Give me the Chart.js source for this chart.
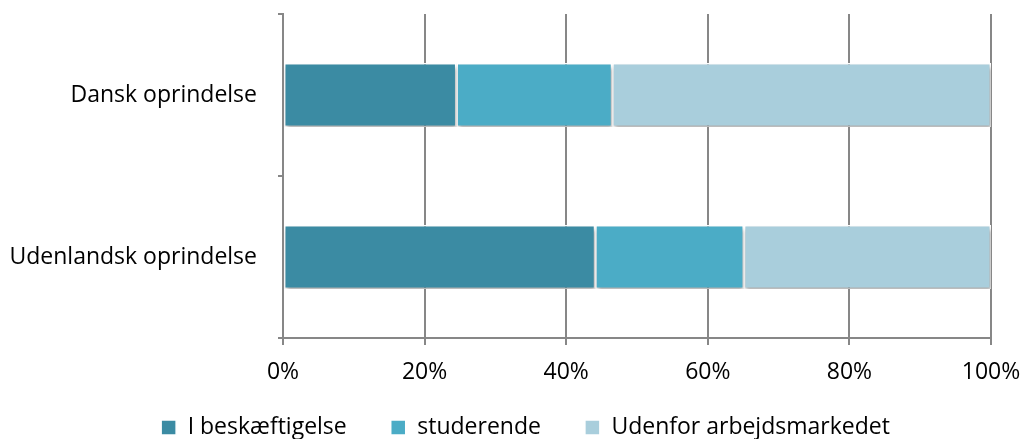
<!DOCTYPE html>
<html>
<head>
<meta charset="utf-8">
<script src="https://cdn.jsdelivr.net/npm/chart.js@4/dist/chart.umd.min.js"></script>
<style>
    html, body { margin: 0; padding: 0; background: #fff; }
    #wrap { width: 1022px; height: 439px; }
</style>
</head>
<body>
<div id="wrap"><canvas id="origChart"></canvas></div>
<script>
const categories = ['Dansk oprindelse', 'Udenlandsk oprindelse'];
const seriesNames = ['I beskæftigelse', 'studerende', 'Udenfor arbejdsmarkedet'];
const beskaeftigelse = [24.5, 44.1]; // procent
const studerende = [22.0, 21.0];
const udenfor = [53.5, 34.9];
const xTicks = [0, 20, 40, 60, 80, 100];

const colors = ['#3b8ba3', '#4bacc6', '#a9cedc'];
const FONT = '"Open Sans", sans-serif';
const FS = 23;

// blød skygge under bjælkerne
const barShadow = {
    id: 'barShadow',
    beforeDatasetsDraw(chart) {
        const ctx = chart.ctx;
        ctx.save();
        ctx.shadowColor = 'rgba(0,0,0,0.35)';
        ctx.shadowBlur = 4;
        ctx.shadowOffsetX = 1;
        ctx.shadowOffsetY = 3;
    },
    afterDatasetsDraw(chart) {
        chart.ctx.restore();
    }
};

// flyt legenden lidt til højre og op, som i originalen
const legendShift = {
    id: 'legendShift',
    afterLayout(chart) {
        chart.legend.left += 60;
        chart.legend.top -= 16;
    }
};

const ctx = document.getElementById('origChart').getContext('2d');
new Chart(ctx, {
    type: 'bar',
    data: {
        labels: categories,
        datasets: [beskaeftigelse, studerende, udenfor].map((vals, i) => ({
            label: seriesNames[i],
            data: vals,
            backgroundColor: colors[i],
            borderColor: '#ffffff',
            borderWidth: 1.5,
            borderSkipped: false,
            barPercentage: 0.395,
            categoryPercentage: 1,
        })),
    },
    options: {
        indexAxis: 'y',
        responsive: true,
        maintainAspectRatio: false,
        animation: false,
        layout: { padding: { top: 14, right: 31, left: 0, bottom: 0 } },
        plugins: {
            tooltip: { enabled: false },
            legend: {
                position: 'bottom',
                maxHeight: 51,
                labels: {
                    boxWidth: 15,
                    boxHeight: 15,
                    padding: 44,
                    color: '#000',
                    font: { family: FONT, size: FS },
                },
            },
        },
        scales: {
            x: {
                stacked: true,
                min: 0,
                max: 100,
                afterBuildTicks: scale => { scale.ticks = xTicks.map(v => ({ value: v })); },
                afterFit: scale => {
                    scale.height = 50;
                    scale.paddingLeft = 0;
                    scale.paddingRight = 0;
                },
                ticks: {
                    callback: v => v + '%',
                    color: '#000',
                    padding: 14,
                    maxRotation: 0,
                    font: { family: FONT, size: FS },
                },
                grid: { color: '#878787', lineWidth: 2, tickLength: 7 },
                border: { color: '#878787', width: 2 },
            },
            y: {
                stacked: true,
                afterFit: scale => {
                    scale.width = 283;
                    scale.paddingTop = 0;
                    scale.paddingBottom = 0;
                },
                ticks: {
                    color: '#000',
                    padding: 21,
                    font: { family: FONT, size: FS },
                },
                grid: { drawOnChartArea: false, color: '#878787', lineWidth: 2, tickLength: 5, offset: true },
                border: { color: '#878787', width: 2 },
            },
        },
    },
    plugins: [barShadow, legendShift],
});
</script>
</body>
</html>
